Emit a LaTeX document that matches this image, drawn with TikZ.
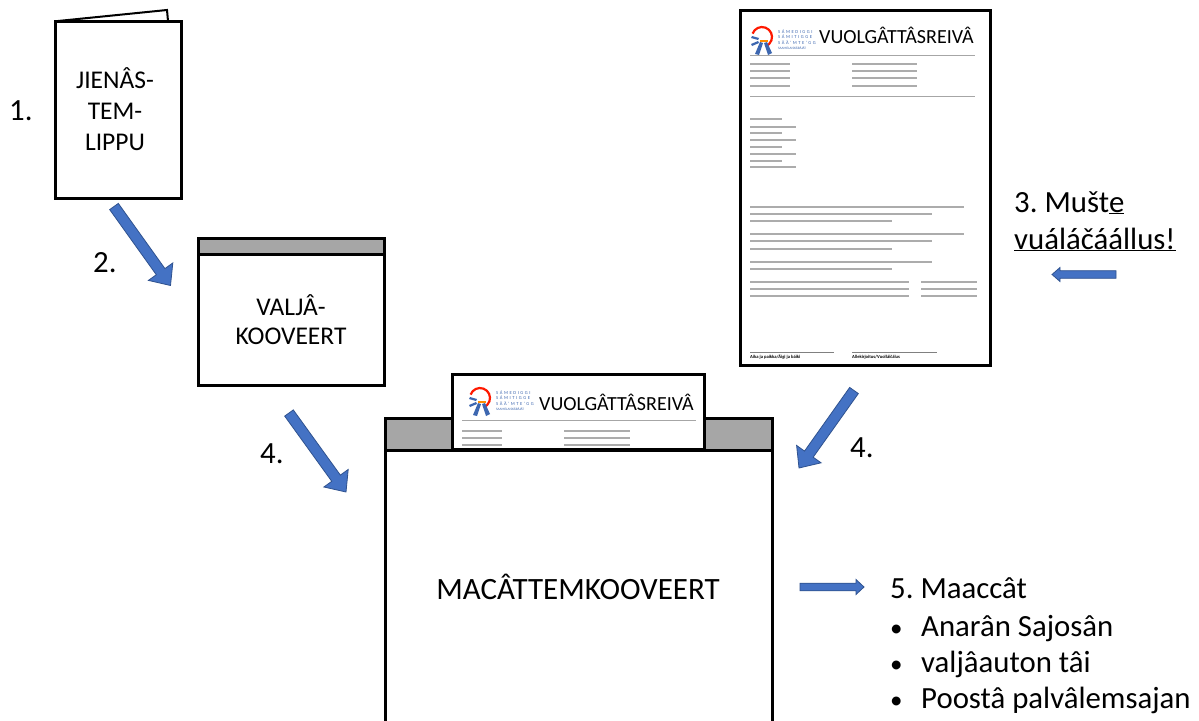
\documentclass[tikz,border=0pt]{standalone}
\usepackage{fontspec}
\setmainfont{Carlito}
\usetikzlibrary{calc}
\definecolor{arrowblue}{RGB}{68,114,196}
\definecolor{arrowedge}{RGB}{47,82,143}
\definecolor{flapgray}{RGB}{166,166,166}
\definecolor{greek}{RGB}{172,172,172}
\tikzset{
  x=1pt,y=-1pt,
  box/.style={draw=black,line width=3pt,fill=white,line join=miter},
  flap/.style={draw=black,line width=3pt,fill=flapgray},
  lbl/.style={font=\fontsize{25.5}{29}\selectfont,align=center,inner sep=0pt,text=black},
  num/.style={font=\fontsize{30.8}{37}\selectfont\frenchspacing,anchor=west,inner sep=0pt,text=black},
  greekline/.style={draw=greek,line width=2.6pt},
  rule/.style={draw=gray!70,line width=.9pt},
  blockarrow/.style={fill=arrowblue,draw=arrowedge,line width=.8pt,line join=miter},
}
% block arrow from #1 to #2: half shaft width #3, head half width #4, head length #5
\newcommand{\blockarrow}[5]{%
  \coordinate (hb) at ($(#2)!#5pt!(#1)$);
  \path[blockarrow] ($(#1)!#3pt!90:(#2)$) -- ($(hb)!#3pt!90:(#2)$) -- ($(hb)!#4pt!90:(#2)$) -- (#2)
    -- ($(hb)!#4pt!-90:(#2)$) -- ($(hb)!#3pt!-90:(#2)$) -- ($(#1)!#3pt!-90:(#2)$) -- cycle;}
% logo with ring centred at (#1,#2)
\newcommand{\logo}[2]{%
  \begin{scope}[shift={(#1,#2)}]
    \draw[red!80!orange,line width=2.2pt] (-9.4,-3.4) arc[start angle=200,end angle=430,radius=10];
    \fill[arrowblue!90!black] (-2,5) -- (1,6) -- (-3,18) -- (-7,17) -- cycle;
    \fill[arrowblue!90!black] (2,6) -- (5,5) -- (10,16) -- (6,18) -- cycle;
    \fill[arrowblue!90!black] (-10,-1) -- (-3,1) -- (-4,3) -- (-11,1) -- cycle;
    \fill[arrowblue!90!black] (-11,7) -- (-4,4) -- (-3,6) -- (-10,9) -- cycle;
    \fill[orange!90!yellow] (-2,3) rectangle (6,5);
    \node[inner sep=0pt,anchor=west,align=left,text=arrowblue!90!black,font=\fontsize{4.6}{5.6}\selectfont\addfontfeatures{LetterSpace=34}] at (16,0)
      {SÁMEDIGGI\\SÁMITIGGE\\SÄÄ'MTE'GG};
    \node[inner sep=0pt,anchor=west,text=arrowblue!90!black,font=\fontsize{3.4}{4}\selectfont] at (16,11) {SAAMELAISKÄRÄJÄT};
  \end{scope}}
\begin{document}
\begin{tikzpicture}
\useasboundingbox (0,0) rectangle (1199,720);
\fill[white] (0,0) rectangle (1199,720);

% Leaflet
\draw[line width=2pt,fill=white] (58,21) -- (167,10) -- (168,21);
\draw[box] (55,21) rectangle (181,198);
\node[lbl,font=\fontsize{25.5}{30}\selectfont] (leaflet) at (115,109) {JIENÂS-\\[1pt]TEM-\\[1pt]LIPPU};
\node[num] (n1) at (9,111) {1.};

% Ballot envelope
\draw[flap] (198,238) rectangle (384,254);
\draw[box] (198,254) rectangle (384,385);
\node[lbl] (valja) at (291,319.5) {VALJÂ-\\KOOVEERT};
\node[num] (n2) at (93,263) {2.};

% Form
\draw[box] (740.5,10) rectangle (990.5,365);
\logo{762}{37}
\node[inner sep=0pt,anchor=west,font=\fontsize{20}{24}\selectfont] (form) at (819,35) {VUOLGÂTTÂSREIVÂ};
\draw[rule] (750,55) -- (975,55);
\foreach \y in {64,71,78,86}{
  \draw[greekline] (750,\y) -- (790,\y);
  \draw[greekline] (852,\y) -- (917,\y);
}
\draw[rule] (750,96) -- (975,96);
\foreach \y/\w in {119/32,127/46,133/32,140/46,147/32,154/46,161/32,167/46}{
  \draw[greekline] (750,\y) -- ({750+\w},\y);
}
\foreach \y/\e in {207/964,214/932,221/892,234/964,241/932,249/892,262/932,269/892}{
  \draw[greekline] (750,\y) -- (\e,\y);
}
\foreach \y in {282,289,296}{
  \draw[greekline] (750,\y) -- (909,\y);
  \draw[greekline] (921,\y) -- (977,\y);
}
\draw[line width=.7pt,gray] (750,352) -- (834,352);
\draw[line width=.7pt,gray] (852,352) -- (937,352);
\node[inner sep=0pt,anchor=west,font=\bfseries\fontsize{4.6}{5}\selectfont] at (750,357) {Aika ja paikka/Áigi ja báiki};
\node[inner sep=0pt,anchor=west,font=\bfseries\fontsize{4.6}{5}\selectfont] at (852,357) {Allekirjoitus/Vuolláičálus};

% Outer envelope
\draw[flap] (385,418.5) rectangle (772,450);
\draw[box] (385,450) rectangle (772,735);
\draw[box] (452,374) rectangle (704,449);
\logo{480}{398}
\node[inner sep=0pt,anchor=west,font=\fontsize{20}{24}\selectfont] (form2) at (539,402) {VUOLGÂTTÂSREIVÂ};
\draw[rule] (462,420) -- (696,420);
\foreach \y in {431,438,445}{
  \draw[greekline] (462,\y) -- (502,\y);
  \draw[greekline] (564,\y) -- (630,\y);
}
\draw[line width=3pt] (385,450) -- (772,450);
\node[lbl,font=\fontsize{31}{36}\selectfont] (macat) at (578,587) {MACÂTTEMKOOVEERT};

% Labels
\node[num] (n4a) at (260,454) {4.};
\node[num] (n4b) at (850,448) {4.};
\node[num,align=left,anchor=north west] (n3) at (1014,191) {3. Mušt\underline{e}\\\underline{vuáláčáállus!}};
\node[num,anchor=base west] (n5) at (890,598) {5. Maaccât};
\node[num,anchor=base west] (b1) at (890,636) {\makebox[31pt][l]{\fontsize{25}{25}\selectfont•}Anarân Sajosân};
\node[num,anchor=base west] (b2) at (890,672) {\makebox[31pt][l]{\fontsize{25}{25}\selectfont•}valjâauton tâi};
\node[num,anchor=base west] (b3) at (890,708) {\makebox[31pt][l]{\fontsize{25}{25}\selectfont•}Poostâ palvâlemsajan};

% Arrows
\coordinate (a1s) at (114,206.5); \coordinate (a1e) at (170.5,285.5);
\coordinate (a2s) at (289,413); \coordinate (a2e) at (346,492);
\coordinate (a3s) at (854,390.5); \coordinate (a3e) at (799,468);
\coordinate (a4s) at (1116,274.5); \coordinate (a4e) at (1052,274.5);
\coordinate (a5s) at (800,587); \coordinate (a5e) at (864,587);
\blockarrow{a1s}{a1e}{5.3}{15}{17}
\blockarrow{a2s}{a2e}{5.3}{15}{17}
\blockarrow{a3s}{a3e}{5.3}{15}{17}
\blockarrow{a4s}{a4e}{3.8}{7}{8}
\blockarrow{a5s}{a5e}{3.8}{7.5}{8}
\end{tikzpicture}
\end{document}
